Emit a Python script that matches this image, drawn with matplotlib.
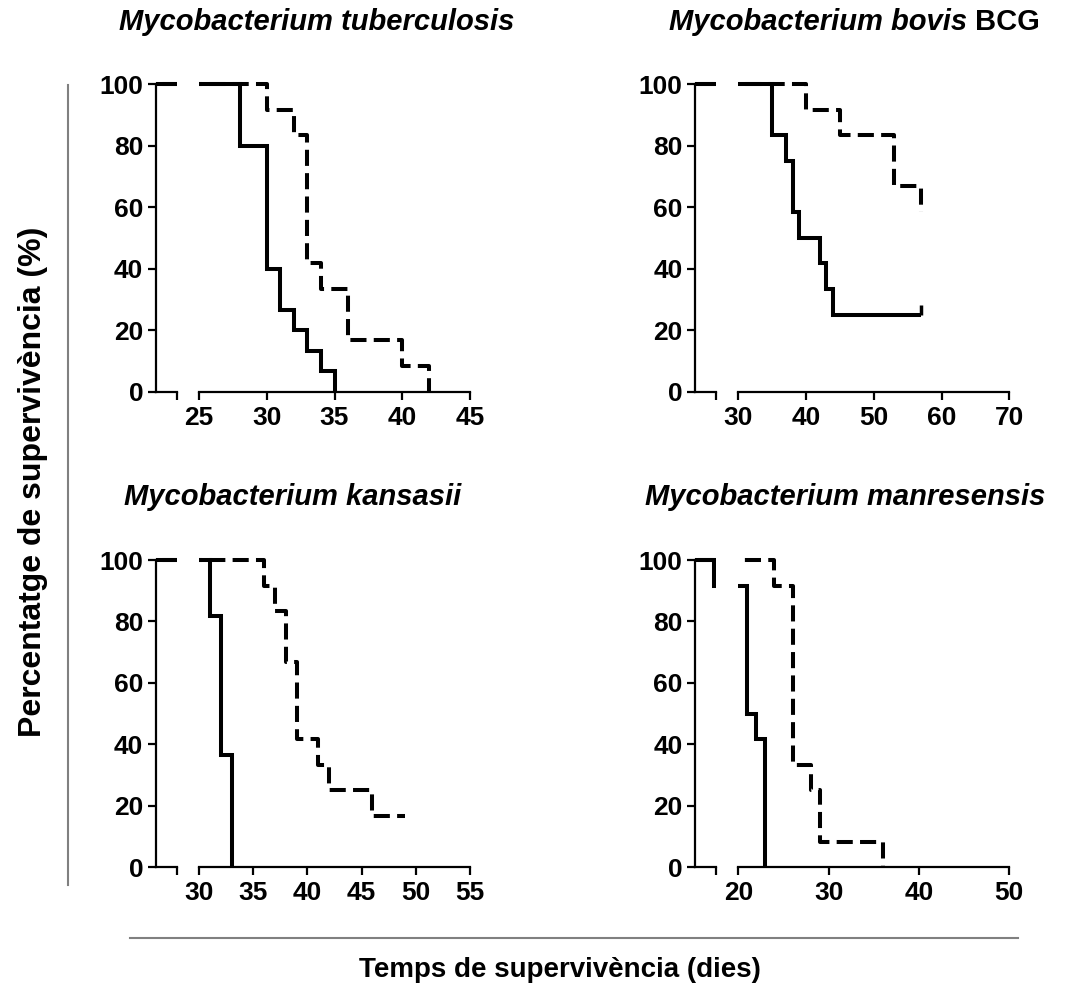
import matplotlib
matplotlib.use("Agg")
import matplotlib.pyplot as plt
from matplotlib.lines import Line2D

plt.rcParams['font.family'] = ['Liberation Sans', 'DejaVu Sans']

# Kaplan-Meier curves (day, % survival), solid = first group, dashed = second group
tb_solid_t = [0, 28, 30, 31, 32, 33, 34, 35]
tb_solid_s = [100, 80, 40, 26.7, 20, 13.3, 6.7, 0]
tb_dash_t = [0, 30, 32, 33, 34, 36, 40, 42]
tb_dash_s = [100, 91.7, 83.3, 41.7, 33.3, 16.7, 8.3, 0]

bcg_solid_t = [0, 35, 37, 38, 39, 42, 43, 44, 57]
bcg_solid_s = [100, 83.3, 75, 58.3, 50, 41.7, 33.3, 25, 25]
bcg_dash_t = [0, 40, 45, 53, 57]
bcg_dash_s = [100, 91.7, 83.3, 66.7, 58.3]

kan_solid_t = [0, 31, 32, 33]
kan_solid_s = [100, 81.8, 36.4, 0]
kan_dash_t = [0, 36, 37, 38, 39, 41, 42, 46, 49]
kan_dash_s = [100, 91.7, 83.3, 66.7, 41.7, 33.3, 25, 16.7, 16.7]

man_solid_t = [0, 17.3, 21, 22, 23]
man_solid_s = [100, 91.7, 50, 41.7, 0]
man_dash_t = [0, 24, 26, 28, 29, 36]
man_dash_s = [100, 91.7, 33.3, 25, 8.3, 0]

yticks = [0, 20, 40, 60, 80, 100]

W, H = 1075, 998
fig = plt.figure(figsize=(W / 100, H / 100), dpi=100)

LW = 2.9
SEG_W, GAP_W, MAIN_W = 21.0, 22.3, 271.0


def add_px_axes(x0, x1, ytop, ybot):
    return fig.add_axes([x0 / W, 1 - ybot / H, (x1 - x0) / W, (ybot - ytop) / H])


def style_axis(ax):
    for s in ['top', 'right']:
        ax.spines[s].set_visible(False)
    ax.spines['bottom'].set_position(('data', 0))
    ax.spines['bottom'].set_linewidth(1.6)
    ax.spines['left'].set_linewidth(1.6)
    ax.tick_params(width=1.6, length=6, labelsize=19, pad=3)
    for lab in ax.get_xticklabels() + ax.get_yticklabels():
        lab.set_fontweight('bold')


def panel(xaxis_px, y100_px, y0_px, xlo, xhi, xticks, curves, censor=None):
    sy = (y0_px - y100_px) / 100.0
    pad = 4
    ytop = y100_px - pad * sy
    ybot = y0_px + pad * sy
    sx = MAIN_W / (xhi - xlo)
    m0 = xaxis_px + SEG_W + GAP_W
    # short segment before the axis break
    axl = add_px_axes(xaxis_px, xaxis_px + SEG_W, ytop, ybot)
    seg_lo = xlo - (SEG_W + GAP_W) / sx
    seg_hi = xlo - GAP_W / sx
    axl.set_xlim(seg_lo, seg_hi)
    axl.set_ylim(-pad, 100 + pad)
    axl.spines['left'].set_bounds(0, 100)
    axl.set_yticks(yticks)
    axl.set_xticks([seg_hi])
    axl.set_xticklabels([''])
    style_axis(axl)
    # main part
    axm = add_px_axes(m0, m0 + MAIN_W, ytop, ybot)
    axm.set_xlim(xlo, xhi)
    axm.set_ylim(-pad, 100 + pad)
    axm.spines['left'].set_visible(False)
    axm.set_yticks([])
    axm.set_xticks(xticks)
    style_axis(axm)
    axm.tick_params(axis='x', pad=4)
    for ax in (axl, axm):
        (t1, s1), (t2, s2) = curves
        ax.step(t1, s1, where='post', color='black', lw=LW,
                solid_joinstyle='miter', solid_capstyle='butt')
        ax.step(t2, s2, where='post', color='black', lw=LW,
                linestyle=(0, (4, 1.8)), dash_capstyle='butt')
    if censor is not None:
        axm.plot([censor[0]], [censor[1]], marker=2, color='black',
                 markersize=7, markeredgewidth=2.5)
    return axl, axm


panel(155.7, 84, 391.7, 25, 45, [25, 30, 35, 40, 45],
      [(tb_solid_t, tb_solid_s), (tb_dash_t, tb_dash_s)])
panel(695, 84, 391.7, 30, 70, [30, 40, 50, 60, 70],
      [(bcg_solid_t, bcg_solid_s), (bcg_dash_t, bcg_dash_s)], censor=(57, 25))
panel(155.7, 560, 867.3, 30, 55, [30, 35, 40, 45, 50, 55],
      [(kan_solid_t, kan_solid_s), (kan_dash_t, kan_dash_s)])
panel(695, 560, 867.3, 20, 50, [20, 30, 40, 50],
      [(man_solid_t, man_solid_s), (man_dash_t, man_dash_s)])

# panel titles
tkw = dict(fontsize=21, fontweight='bold', va='center')
fig.text(317 / W, 1 - 22 / H, 'Mycobacterium tuberculosis', style='italic', ha='center', **tkw)
fig.text(967 / W, 1 - 22 / H, 'Mycobacterium bovis', style='italic', ha='right', **tkw)
fig.text(975 / W, 1 - 22 / H, 'BCG', ha='left', **tkw)
fig.text(293 / W, 1 - 497 / H, 'Mycobacterium kansasii', style='italic', ha='center', **tkw)
fig.text(845 / W, 1 - 497 / H, 'Mycobacterium manresensis', style='italic', ha='center', **tkw)

# shared axis labels with grey rules
fig.text(33 / W, 1 - 482 / H, 'Percentatge de supervivència (%)', rotation=90,
         ha='center', va='center', fontsize=23, fontweight='bold')
fig.text(560 / W, 1 - 970 / H, 'Temps de supervivència (dies)',
         ha='center', va='center', fontsize=20, fontweight='bold')
fig.add_artist(Line2D([68 / W, 68 / W], [1 - 85 / H, 1 - 885 / H], color='#808080', lw=1.5))
fig.add_artist(Line2D([130 / W, 1018 / W], [1 - 938 / H, 1 - 938 / H], color='#808080', lw=1.5))

fig.savefig('out.png', dpi=100)
